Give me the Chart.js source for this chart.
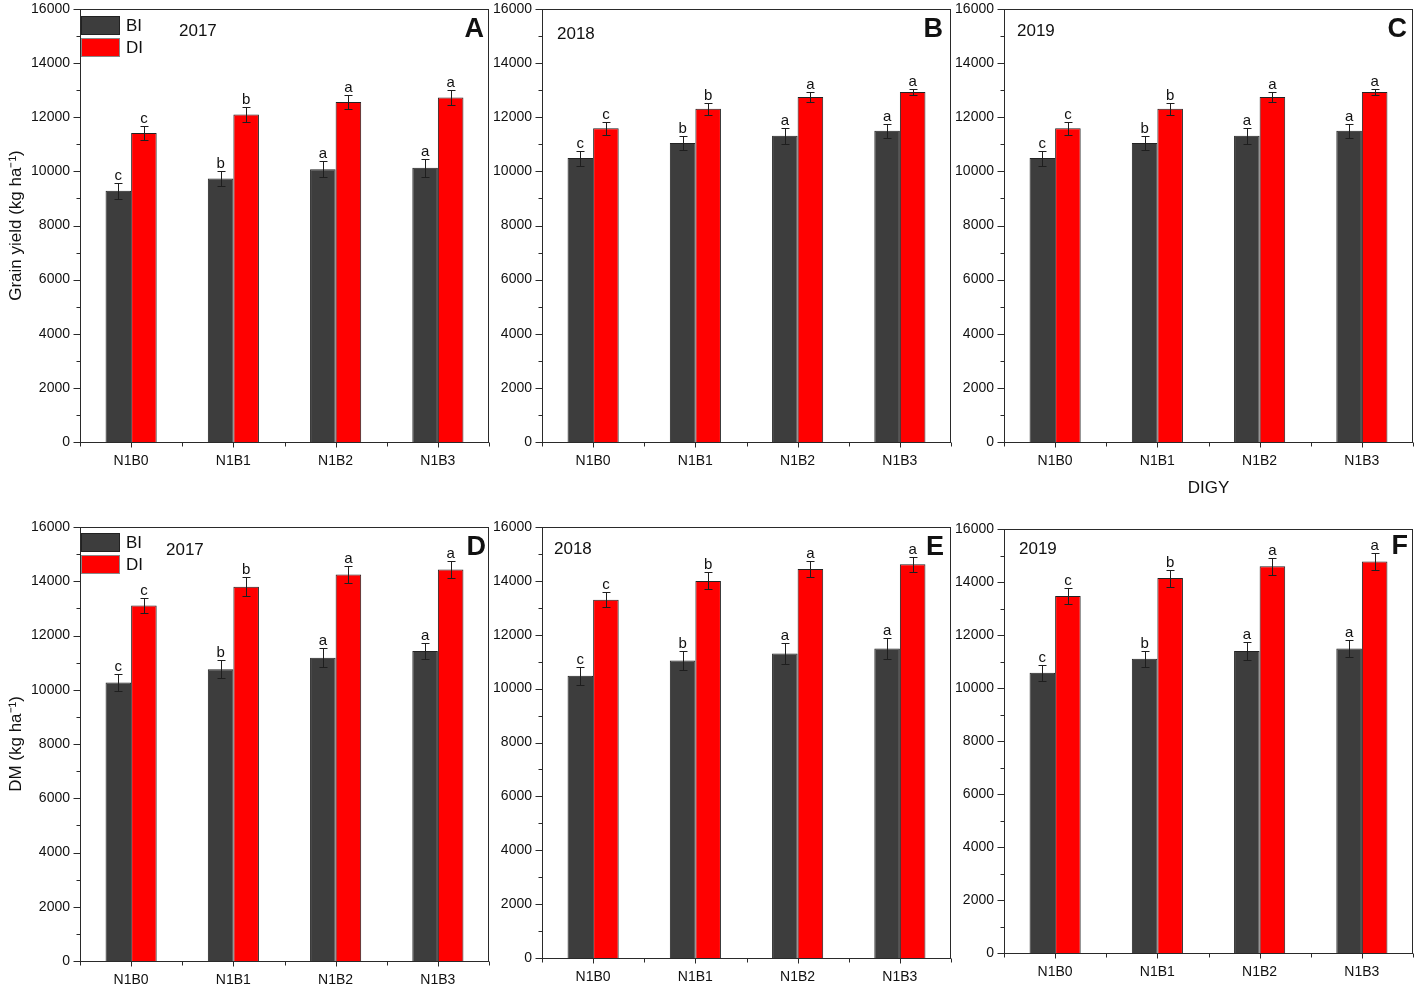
<!DOCTYPE html>
<html><head><meta charset="utf-8">
<script src="https://cdn.jsdelivr.net/npm/chart.js@4/dist/chart.umd.min.js"></script>
<style>
html,body{margin:0;padding:0;background:#fff;width:1417px;height:988px;overflow:hidden;position:relative;}
canvas{position:absolute;left:0;top:-40px;pointer-events:none;}
</style></head><body>
<canvas id="cA" width="1417" height="1068"></canvas>
<canvas id="cB" width="1417" height="1068"></canvas>
<canvas id="cC" width="1417" height="1068"></canvas>
<canvas id="cD" width="1417" height="1068"></canvas>
<canvas id="cE" width="1417" height="1068"></canvas>
<canvas id="cF" width="1417" height="1068"></canvas>
<script>
// ---------- data ----------
const categories = ['N1B0', 'N1B1', 'N1B2', 'N1B3'];
const seriesLabels = ['BI', 'DI'];
const yMin = 0, yMax = 16000, yStep = 2000;

// A: grain yield 2017
const gy2017BI = [9280, 9740, 10080, 10130];
const gy2017BIerr = [300, 280, 300, 320];
const gy2017BIsig = ['c', 'b', 'a', 'a'];
const gy2017DI = [11420, 12100, 12560, 12730];
const gy2017DIerr = [250, 270, 250, 270];
const gy2017DIsig = ['c', 'b', 'a', 'a'];

// B: grain yield 2018
const gy2018BI = [10490, 11050, 11320, 11500];
const gy2018BIerr = [280, 260, 290, 250];
const gy2018BIsig = ['c', 'b', 'a', 'a'];
const gy2018DI = [11590, 12310, 12750, 12930];
const gy2018DIerr = [230, 210, 190, 110];
const gy2018DIsig = ['c', 'b', 'a', 'a'];

// C: grain yield 2019
const gy2019BI = [10490, 11050, 11320, 11500];
const gy2019BIerr = [280, 260, 290, 250];
const gy2019BIsig = ['c', 'b', 'a', 'a'];
const gy2019DI = [11590, 12310, 12750, 12930];
const gy2019DIerr = [230, 210, 190, 110];
const gy2019DIsig = ['c', 'b', 'a', 'a'];

// D: DM 2017
const dm2017BI = [10270, 10760, 11180, 11430];
const dm2017BIerr = [320, 330, 350, 310];
const dm2017BIsig = ['c', 'b', 'a', 'a'];
const dm2017DI = [13110, 13800, 14250, 14430];
const dm2017DIerr = [290, 340, 320, 300];
const dm2017DIsig = ['c', 'b', 'a', 'a'];

// E: DM 2018
const dm2018BI = [10480, 11040, 11300, 11490];
const dm2018BIerr = [330, 340, 380, 380];
const dm2018BIsig = ['c', 'b', 'a', 'a'];
const dm2018DI = [13300, 14000, 14440, 14620];
const dm2018DIerr = [270, 320, 300, 280];
const dm2018DIsig = ['c', 'b', 'a', 'a'];

// F: DM 2019
const dm2019BI = [10580, 11100, 11400, 11490];
const dm2019BIerr = [300, 310, 350, 330];
const dm2019BIsig = ['c', 'b', 'a', 'a'];
const dm2019DI = [13470, 14150, 14590, 14770];
const dm2019DIerr = [300, 320, 320, 320];
const dm2019DIsig = ['c', 'b', 'a', 'a'];

// ---------- rendering ----------
const FF = '"Liberation Sans", Arial, sans-serif';
const W = 1417, CH = 1068, OFF = 40;
const BI_COLOR = '#3d3d3d', DI_COLOR = '#ff0000';

const decor = {
  id: 'panelDecor',
  afterDatasetsDraw(chart, args, o) {
    const {ctx, chartArea: a, scales: {x, y}} = chart;
    ctx.save();
    // error bars + significance letters
    chart.data.datasets.forEach((ds, i) => {
      const meta = chart.getDatasetMeta(i);
      meta.data.forEach((bar, j) => {
        const v = ds.data[j], e = ds.errors[j];
        const yt = Math.round(y.getPixelForValue(v + e)) + 0.5;
        const yb = Math.round(y.getPixelForValue(v - e)) + 0.5;
        const cx = Math.round(bar.x) + 0.5;
        ctx.strokeStyle = '#1e1e1e'; ctx.lineWidth = 1;
        ctx.beginPath();
        ctx.moveTo(cx, yt); ctx.lineTo(cx, yb);
        ctx.moveTo(cx - 4, yt); ctx.lineTo(cx + 4, yt);
        ctx.moveTo(cx - 4, yb); ctx.lineTo(cx + 4, yb);
        ctx.stroke();
        ctx.fillStyle = '#111'; ctx.font = '15px ' + FF;
        ctx.textAlign = 'center'; ctx.textBaseline = 'alphabetic';
        ctx.fillText(ds.sig[j], bar.x, yt - 4);
      });
    });
    // frame
    ctx.strokeStyle = '#2a2a2a'; ctx.lineWidth = 1;
    const l = Math.round(a.left) + 0.5, r = Math.round(a.right) - 0.5;
    const t = Math.round(a.top) + 0.5, b = Math.round(a.bottom) + 0.5;
    ctx.strokeRect(l, t, r - l, b - t);
    // y ticks (major + minor)
    ctx.beginPath();
    for (let v = yMin; v <= yMax; v += yStep / 2) {
      const py = Math.round(y.getPixelForValue(v)) + 0.5;
      const len = (v % yStep === 0) ? 7 : 4;
      ctx.moveTo(l - len, py); ctx.lineTo(l, py);
    }
    // x ticks: centers and boundaries
    const n = categories.length, cw = (a.right - a.left) / n;
    for (let k = 0; k <= n; k++) {
      const px = Math.round(a.left + k * cw) + 0.5;
      ctx.moveTo(px, b); ctx.lineTo(px, b + 4);
    }
    for (let k = 0; k < n; k++) {
      const px = Math.round(x.getPixelForValue(k)) + 0.5;
      ctx.moveTo(px, b); ctx.lineTo(px, b + 5);
    }
    ctx.stroke();
    // legend
    if (o.legend) {
      chart.data.datasets.forEach((ds, i) => {
        const bx = Math.round(a.left) + 1, by = Math.round(a.top) + o.legendDY + i * 22;
        ctx.fillStyle = ds.backgroundColor;
        ctx.fillRect(bx, by, 39, 19);
        ctx.strokeStyle = i === 0 ? '#222' : '#888';
        ctx.strokeRect(bx + 0.5, by + 0.5, 38, 18);
        ctx.fillStyle = '#111'; ctx.font = '17px ' + FF;
        ctx.textAlign = 'left'; ctx.textBaseline = 'middle';
        ctx.fillText(ds.label, bx + 45, by + 10);
      });
    }
    // year label
    ctx.fillStyle = '#111'; ctx.font = '17px ' + FF;
    ctx.textAlign = 'left'; ctx.textBaseline = 'middle';
    ctx.fillText(o.year, a.left + o.yearDX, a.top + o.yearDY);
    // panel letter
    ctx.font = 'bold 27px ' + FF;
    ctx.textAlign = 'right'; ctx.textBaseline = 'middle';
    ctx.fillText(o.letter, a.right - o.letterDX, a.top + o.letterDY);
    ctx.restore();
  }
};

function ds(label, data, errors, sig, color, border) {
  return {label, data, errors, sig, backgroundColor: color, borderColor: border,
          borderWidth: 1, borderSkipped: 'bottom', categoryPercentage: 0.5, barPercentage: 1.0};
}

function makeChart(id, c) {
  const yw = 80;
  const T = c.T + OFF, B = c.B + OFF;
  new Chart(document.getElementById(id), {
    type: 'bar',
    data: {
      labels: categories,
      datasets: [
        ds(seriesLabels[0], c.bi, c.biErr, c.biSig, BI_COLOR, '#222'),
        ds(seriesLabels[1], c.di, c.diErr, c.diSig, DI_COLOR, '#222')
      ]
    },
    options: {
      responsive: false, animation: false, devicePixelRatio: 1,
      layout: {autoPadding: false, padding: {left: c.L - yw, top: T, right: W - c.R, bottom: CH - B - c.xh}},
      plugins: {
        legend: {display: false}, tooltip: {enabled: false},
        panelDecor: {legend: c.legend, legendDY: c.legendDY || 7, year: c.year, yearDX: c.yearDX, yearDY: c.yearDY,
                     letter: c.letter, letterDX: c.letterDX, letterDY: c.letterDY}
      },
      scales: {
        x: {
          grid: {display: false, drawTicks: false}, border: {display: false},
          ticks: {font: {family: FF, size: 14}, color: '#111', padding: 11, maxRotation: 0, autoSkip: false},
          title: c.xTitle ? {display: true, text: c.xTitle, font: {family: FF, size: 17}, color: '#111', padding: {top: 0, bottom: 3}} : {display: false},
          afterFit(s) { s.height = c.xh; }
        },
        y: {
          min: yMin, max: yMax,
          grid: {display: false, drawTicks: false}, border: {display: false},
          ticks: {stepSize: yStep, font: {family: FF, size: 14}, color: '#111', padding: 10,
                  callback: v => String(v)},
          title: c.yTitle ? {display: true, text: c.yTitle, font: {family: FF, size: 17}, color: '#111', padding: {top: 6, bottom: 0}} : {display: false},
          afterFit(s) { s.width = yw; }
        }
      }
    },
    plugins: [decor]
  });
}

makeChart('cA', {L: 80, T: 9, R: 489, B: 442, xh: 40, bi: gy2017BI, biErr: gy2017BIerr, biSig: gy2017BIsig,
  di: gy2017DI, diErr: gy2017DIerr, diSig: gy2017DIsig, yTitle: 'Grain yield (kg ha\u207B\u00B9)', legend: true, legendDY: 7,
  year: '2017', yearDX: 99, yearDY: 22, letter: 'A', letterDX: 5, letterDY: 21});
makeChart('cB', {L: 542, T: 9, R: 951, B: 442, xh: 40, bi: gy2018BI, biErr: gy2018BIerr, biSig: gy2018BIsig,
  di: gy2018DI, diErr: gy2018DIerr, diSig: gy2018DIsig,
  year: '2018', yearDX: 15, yearDY: 25, letter: 'B', letterDX: 8, letterDY: 21});
makeChart('cC', {L: 1004, T: 9, R: 1413, B: 442, xh: 60, bi: gy2019BI, biErr: gy2019BIerr, biSig: gy2019BIsig,
  di: gy2019DI, diErr: gy2019DIerr, diSig: gy2019DIsig, xTitle: 'DIGY',
  year: '2019', yearDX: 13, yearDY: 22, letter: 'C', letterDX: 6, letterDY: 21});
makeChart('cD', {L: 80, T: 527, R: 489, B: 961, xh: 40, bi: dm2017BI, biErr: dm2017BIerr, biSig: dm2017BIsig,
  di: dm2017DI, diErr: dm2017DIerr, diSig: dm2017DIsig, yTitle: 'DM (kg ha\u207B\u00B9)', legend: true, legendDY: 6,
  year: '2017', yearDX: 86, yearDY: 23, letter: 'D', letterDX: 3, letterDY: 21});
makeChart('cE', {L: 542, T: 527, R: 951, B: 958, xh: 40, bi: dm2018BI, biErr: dm2018BIerr, biSig: dm2018BIsig,
  di: dm2018DI, diErr: dm2018DIerr, diSig: dm2018DIsig,
  year: '2018', yearDX: 12, yearDY: 22, letter: 'E', letterDX: 7, letterDY: 21});
makeChart('cF', {L: 1004, T: 529, R: 1413, B: 953, xh: 40, bi: dm2019BI, biErr: dm2019BIerr, biSig: dm2019BIsig,
  di: dm2019DI, diErr: dm2019DIerr, diSig: dm2019DIsig,
  year: '2019', yearDX: 15, yearDY: 20, letter: 'F', letterDX: 5, letterDY: 18});
</script>
</body></html>
